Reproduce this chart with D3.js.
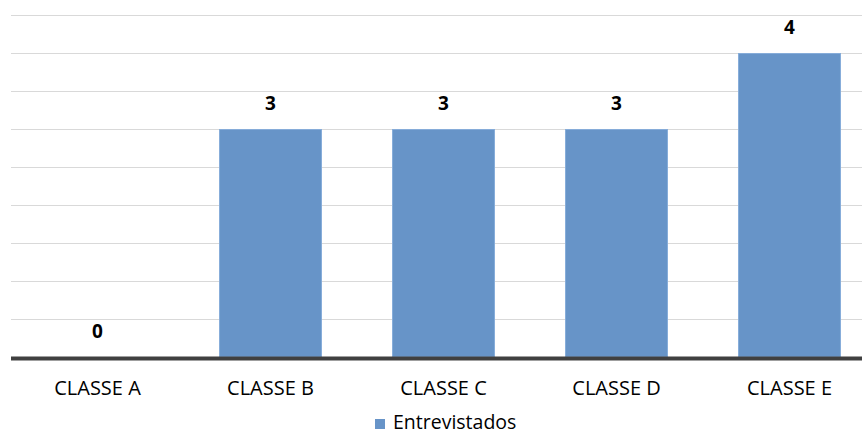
<!DOCTYPE html>
<html>
<head>
<meta charset="utf-8">
<script src="https://cdn.jsdelivr.net/npm/d3@7"></script>
<style>
  html, body { margin: 0; padding: 0; background: #fff; }
  svg { display: block; }
  text { font-family: "Open Sans", Lato, sans-serif; fill: #000; }
</style>
</head>
<body>
<svg id="chart" width="862" height="434"></svg>
<script>
// Interviewees per social class
const categories = ["CLASSE A", "CLASSE B", "CLASSE C", "CLASSE D", "CLASSE E"];
const entrevistados = [0, 3, 3, 3, 4];
const gridValues = [0.5, 1, 1.5, 2, 2.5, 3, 3.5, 4, 4.5];
const seriesName = "Entrevistados";

const svg = d3.select("#chart");
const W = 862;

const x = d3.scaleBand()
  .domain(categories)
  .range([11, 876])
  .paddingInner(0.405)
  .paddingOuter(0.2025);

const y = d3.scaleLinear().domain([0, 4.5]).range([357, 15]);

// horizontal gridlines
svg.append("g")
  .selectAll("line")
  .data(gridValues)
  .join("line")
  .attr("x1", 11).attr("x2", W)
  .attr("y1", d => Math.round(y(d)) + 0.5)
  .attr("y2", d => Math.round(y(d)) + 0.5)
  .attr("stroke", "#d9d9d9")
  .attr("stroke-width", 1);

const rows = categories.map((c, i) => ({ c, v: entrevistados[i] }));

// bars
svg.append("g")
  .selectAll("rect")
  .data(rows)
  .join("rect")
  .attr("x", d => x(d.c) + 0.5)
  .attr("y", d => y(d.v) + 0.5)
  .attr("width", x.bandwidth() - 1)
  .attr("height", d => Math.max(0, y(0) - y(d.v) - 0.5))
  .attr("fill", "#6794c8")
  .attr("stroke", "#86acd9")
  .attr("stroke-width", 1);

// value labels
svg.append("g")
  .selectAll("text")
  .data(rows)
  .join("text")
  .attr("x", d => x(d.c) + x.bandwidth() / 2)
  .attr("y", d => y(d.v) - 19)
  .attr("text-anchor", "middle")
  .attr("font-size", 19)
  .attr("font-weight", "bold")
  .text(d => d.v);

// category axis line
svg.append("line")
  .attr("x1", 11).attr("x2", W)
  .attr("y1", 358.5).attr("y2", 358.5)
  .attr("stroke", "#404040")
  .attr("stroke-width", 4);

// category labels
const xAxis = d3.axisBottom(x).tickSize(0).tickPadding(0);
const gx = svg.append("g").attr("transform", "translate(0,395)").call(xAxis);
gx.select(".domain").remove();
gx.selectAll("text")
  .attr("dy", 0)
  .attr("y", 0)
  .attr("font-size", 20)
  .style("font-family", "'Open Sans', Lato, sans-serif")
  .attr("fill", "#000");

// legend
const lg = svg.append("g");
lg.append("rect")
  .attr("x", 375).attr("y", 419)
  .attr("width", 10).attr("height", 10)
  .attr("fill", "#6794c8");
lg.append("text")
  .attr("x", 393).attr("y", 428.5)
  .attr("font-size", 19.5)
  .text(seriesName);
</script>
</body>
</html>
